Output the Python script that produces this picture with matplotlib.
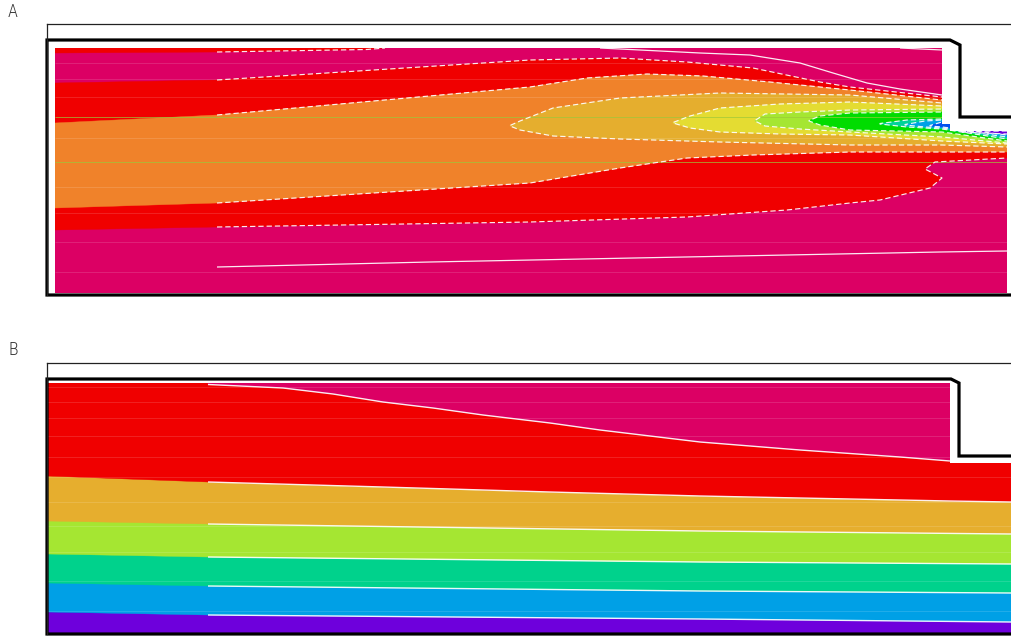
import matplotlib
matplotlib.use("Agg")
import matplotlib.pyplot as plt
from matplotlib.patches import Polygon

# ---------------- colours of the contour levels ----------------
CRIMSON = "#DC0064"
RED = "#F00000"
ORANGE = "#F0822A"
GOLD = "#E5AE2E"
YELLOW = "#E4DC32"
YGREEN = "#A5E632"
GREEN = "#00DC00"
TEAL = "#00D29A"
CYAN = "#00A0E6"
BLUE = "#0050F0"
VIOLET = "#6E00DC"

# ================= Panel A (x along channel, y depth) =================
A_field_x = [55, 942, 942, 950, 950, 1007, 1007, 55]
A_field_y = [48, 48, 124, 124, 131, 131, 293, 293]
A_wall_x = [1011, 960, 960, 950, 47, 47, 1011]
A_wall_y = [117, 117, 45, 40, 40, 295, 295]

# thin red wedge along the upper wall
A_strip_x = [55, 217, 367, 385]
A_strip_y = [53, 52, 49.5, 48]

# red level
A_red_up_x = [55, 217, 530, 620, 687, 753, 820, 850, 942, 1007]
A_red_up_y = [83, 80, 60, 58, 62, 68, 82, 87, 97, 97]
A_red_lo_x = [55, 217, 530, 687, 787, 850, 880, 930, 942, 925, 935, 1007]
A_red_lo_y = [230, 227, 222, 217, 210, 203, 200, 188, 178, 169, 162, 158]

# orange level
A_or_up_x = [55, 217, 530, 587, 647, 703, 770, 850, 942, 1007]
A_or_up_y = [123, 115, 87, 78, 74, 76, 82, 90, 100, 100]
A_or_lo_x = [55, 217, 530, 620, 687, 753, 850, 942, 1007]
A_or_lo_y = [208, 203, 183, 168, 158, 155, 152, 152, 152]

# gold level
A_go_x = [510, 520, 553, 620, 720, 850, 942, 1007]
A_go_up = [125.5, 121, 108, 98, 93, 95, 103, 103]
A_go_lo = [126, 130, 136, 139, 142, 145, 145, 147]

# yellow level
A_ye_x = [673, 690, 720, 780, 850, 942, 1007]
A_ye_up = [122.5, 116, 108, 104, 102, 106, 106]
A_ye_lo = [123, 128, 132, 134, 135, 141, 144]

# yellow-green level
A_yg_x = [755, 765, 800, 850, 942, 1007]
A_yg_up = [120.5, 114, 112, 110, 109, 109]
A_yg_lo = [121, 126, 129, 132, 137, 143]

# green level
A_gr_x = [809, 820, 850, 942, 1007]
A_gr_up = [120.5, 116, 113, 112, 112]
A_gr_lo = [121, 125, 130, 132, 141]

# teal level
A_te_x = [880, 907, 942, 1007]
A_te_up = [123.5, 120, 119, 119]
A_te_lo = [124, 127, 129, 139]

# cyan level
A_cy_x = [905, 925, 942, 1007]
A_cy_up = [124.5, 121, 120, 120]
A_cy_lo = [125, 127, 128, 137]

# blue level
A_bl_x = [930, 942, 1007]
A_bl_up = [125.5, 122, 122]
A_bl_lo = [126, 127, 135]

# violet level
A_vi_x = [960, 1007]
A_vi_up = [131.5, 131]
A_vi_lo = [132, 134]

# solid (positive) contour lines
A_pos1_x = [600, 700, 750, 800, 833, 867, 900, 942]
A_pos1_y = [48, 53, 55, 63, 73, 83, 89, 95]
A_pos2_x = [900, 942]
A_pos2_y = [48, 50]
A_pos3_x = [217, 430, 940, 1007]
A_pos3_y = [267, 262, 252, 251]

A_mesh_rows = [63, 79, 97, 138, 187, 213, 242, 272]
A_mesh_rows_green = [117, 162]

# ================= Panel B =================
B_field_x = [47, 950, 950, 1011, 1011, 47]
B_field_y = [383, 383, 463, 463, 633, 633]
B_wall_x = [1011, 959, 959, 951, 47, 47, 1011]
B_wall_y = [456, 456, 383, 379, 379, 634, 634]

B_cr_x = [208, 283, 333, 383, 433, 483, 550, 600, 700, 800, 900, 950]
B_cr_y = [384.5, 388, 394, 402, 408, 415, 423, 430, 442, 450, 457, 461]
B_rg_x = [47, 208, 383, 550, 700, 950, 1011]
B_rg_y = [476, 482, 487, 492, 496, 501, 502]
B_bx = [47, 208, 700, 1011]
B_gy_y = [521, 524, 531, 534]
B_yt_y = [554, 557, 562, 564]
B_tb_y = [583, 586, 591, 593]
B_bv_y = [612, 615, 619, 622]
B_mesh_rows = [387, 402, 418, 436, 457, 477, 502, 526, 552, 581, 611]

LINE_START = {"A": 217, "B": 208}

# ---------------------------------------------------------------------------
W, H = 1011, 637
fig = plt.figure(figsize=(W / 100, H / 100), dpi=100)


def make_axes(top_px, bottom_px):
    ax = fig.add_axes([47 / W, (H - bottom_px) / H, 964 / W, (bottom_px - top_px) / H])
    ax.set_xlim(47, 1011)
    ax.set_ylim(bottom_px, top_px)
    ax.set_xticks([])
    ax.set_yticks([])
    for s in ("right", "bottom"):
        ax.spines[s].set_visible(False)
    for s in ("top", "left"):
        ax.spines[s].set_linewidth(0.9)
        ax.spines[s].set_color("#222222")
    ax.set_facecolor("white")
    return ax


def clip_patch(ax, xs, ys):
    return Polygon(list(zip(xs, ys)), closed=True, transform=ax.transData)


def region(ax, clip, xs_up, ys_up, xs_lo, ys_lo, color):
    pts = list(zip(xs_up, ys_up)) + list(zip(xs_lo, ys_lo))[::-1]
    p = Polygon(pts, closed=True, facecolor=color, edgecolor=color, lw=0.3)
    ax.add_patch(p)
    p.set_clip_path(clip)


def cline(ax, clip, xs, ys, start, dashed=True, lw=0.85):
    pts = [(x, y) for x, y in zip(xs, ys) if x >= start]
    if len(pts) < 2:
        return
    px, py = zip(*pts)
    ls = (0, (4.5, 2.5)) if dashed else "-"
    ln, = ax.plot(px, py, color="white", lw=lw, ls=ls, alpha=0.92,
                  solid_capstyle="butt", dash_capstyle="butt")
    ln.set_clip_path(clip)


# ============================ Panel A ============================
axA = make_axes(24, 295)
clipA = clip_patch(axA, A_field_x, A_field_y)
bg = Polygon(list(zip(A_field_x, A_field_y)), closed=True, facecolor=CRIMSON, edgecolor="none")
axA.add_patch(bg)

top = min(A_field_y)
region(axA, clipA, A_strip_x, A_strip_y, [A_strip_x[0], A_strip_x[-1]], [top - 2, top - 2], RED)
region(axA, clipA, A_red_up_x, A_red_up_y, A_red_lo_x, A_red_lo_y, RED)
region(axA, clipA, A_or_up_x, A_or_up_y, A_or_lo_x, A_or_lo_y, ORANGE)
for xs, up, lo, col in [(A_go_x, A_go_up, A_go_lo, GOLD),
                        (A_ye_x, A_ye_up, A_ye_lo, YELLOW),
                        (A_yg_x, A_yg_up, A_yg_lo, YGREEN),
                        (A_gr_x, A_gr_up, A_gr_lo, GREEN),
                        (A_te_x, A_te_up, A_te_lo, TEAL),
                        (A_cy_x, A_cy_up, A_cy_lo, CYAN),
                        (A_bl_x, A_bl_up, A_bl_lo, BLUE),
                        (A_vi_x, A_vi_up, A_vi_lo, VIOLET)]:
    region(axA, clipA, xs, up, xs, lo, col)

# faint mesh rows
for r in A_mesh_rows:
    l = axA.hlines(r, 55, 1007, colors="white", lw=0.6, alpha=0.16)
    l.set_clip_path(clipA)
for r in A_mesh_rows_green:
    l = axA.hlines(r, 55, 1007, colors="#9CC83A", lw=0.7, alpha=0.7)
    l.set_clip_path(clipA)

# dashed (negative) contour lines
s = LINE_START["A"]
cline(axA, clipA, A_strip_x, A_strip_y, s)
cline(axA, clipA, A_red_up_x, A_red_up_y, s)
cline(axA, clipA, A_red_lo_x, A_red_lo_y, s)
cline(axA, clipA, A_or_up_x, A_or_up_y, s)
cline(axA, clipA, A_or_lo_x, A_or_lo_y, s)
for xs, up, lo in [(A_go_x, A_go_up, A_go_lo), (A_ye_x, A_ye_up, A_ye_lo),
                   (A_yg_x, A_yg_up, A_yg_lo), (A_gr_x, A_gr_up, A_gr_lo),
                   (A_te_x, A_te_up, A_te_lo), (A_cy_x, A_cy_up, A_cy_lo),
                   (A_bl_x, A_bl_up, A_bl_lo), (A_vi_x, A_vi_up, A_vi_lo)]:
    cline(axA, clipA, list(xs[::-1]) + list(xs), list(up[::-1]) + list(lo), s)
# solid (positive) contour lines
cline(axA, clipA, A_pos1_x, A_pos1_y, s, dashed=False, lw=0.9)
cline(axA, clipA, A_pos2_x, A_pos2_y, s, dashed=False, lw=0.9)
cline(axA, clipA, A_pos3_x, A_pos3_y, s, dashed=False, lw=0.9)

axA.plot(A_wall_x, A_wall_y, color="black", lw=2.3, solid_joinstyle="miter", clip_on=False)

# ============================ Panel B ============================
axB = make_axes(363, 634)
clipB = clip_patch(axB, B_field_x, B_field_y)
topB = min(B_field_y) - 3
xl, xr = min(B_field_x), max(B_field_x)
bgB = Polygon(list(zip(B_field_x, B_field_y)), closed=True, facecolor=VIOLET, edgecolor="none")
axB.add_patch(bgB)
for ys, col in [(B_bv_y, CYAN), (B_tb_y, "#00D28C"), (B_yt_y, YGREEN),
                (B_gy_y, "#E6AE2E")]:
    region(axB, clipB, [xl, xr], [topB, topB], B_bx, ys, col)
region(axB, clipB, [xl, xr], [topB, topB], B_rg_x, B_rg_y, RED)
region(axB, clipB, [B_cr_x[0], B_cr_x[-1]], [topB, topB], B_cr_x, B_cr_y, CRIMSON)

for r in B_mesh_rows:
    l = axB.hlines(r, xl, xr, colors="white", lw=0.6, alpha=0.16)
    l.set_clip_path(clipB)

sB = LINE_START["B"]
cline(axB, clipB, B_cr_x, B_cr_y, sB, dashed=False, lw=1.0)
cline(axB, clipB, B_rg_x, B_rg_y, sB, dashed=False, lw=1.0)
for ys in (B_gy_y, B_yt_y, B_tb_y, B_bv_y):
    cline(axB, clipB, B_bx, ys, sB, dashed=False, lw=1.0)

axB.plot(B_wall_x, B_wall_y, color="black", lw=2.3, solid_joinstyle="miter", clip_on=False)

# panel letters
lab_font = ["Roboto Condensed", "Liberation Sans Narrow", "Roboto", "DejaVu Sans"]
fig.text(8 / W, 1 - 3 / H, "A", ha="left", va="top", fontsize=13,
         color="#3a3a3a", family=lab_font, fontweight="light")
fig.text(8 / W, 1 - 341 / H, "B", ha="left", va="top", fontsize=13,
         color="#3a3a3a", family=lab_font, fontweight="light")

fig.savefig("out.png", dpi=100)
